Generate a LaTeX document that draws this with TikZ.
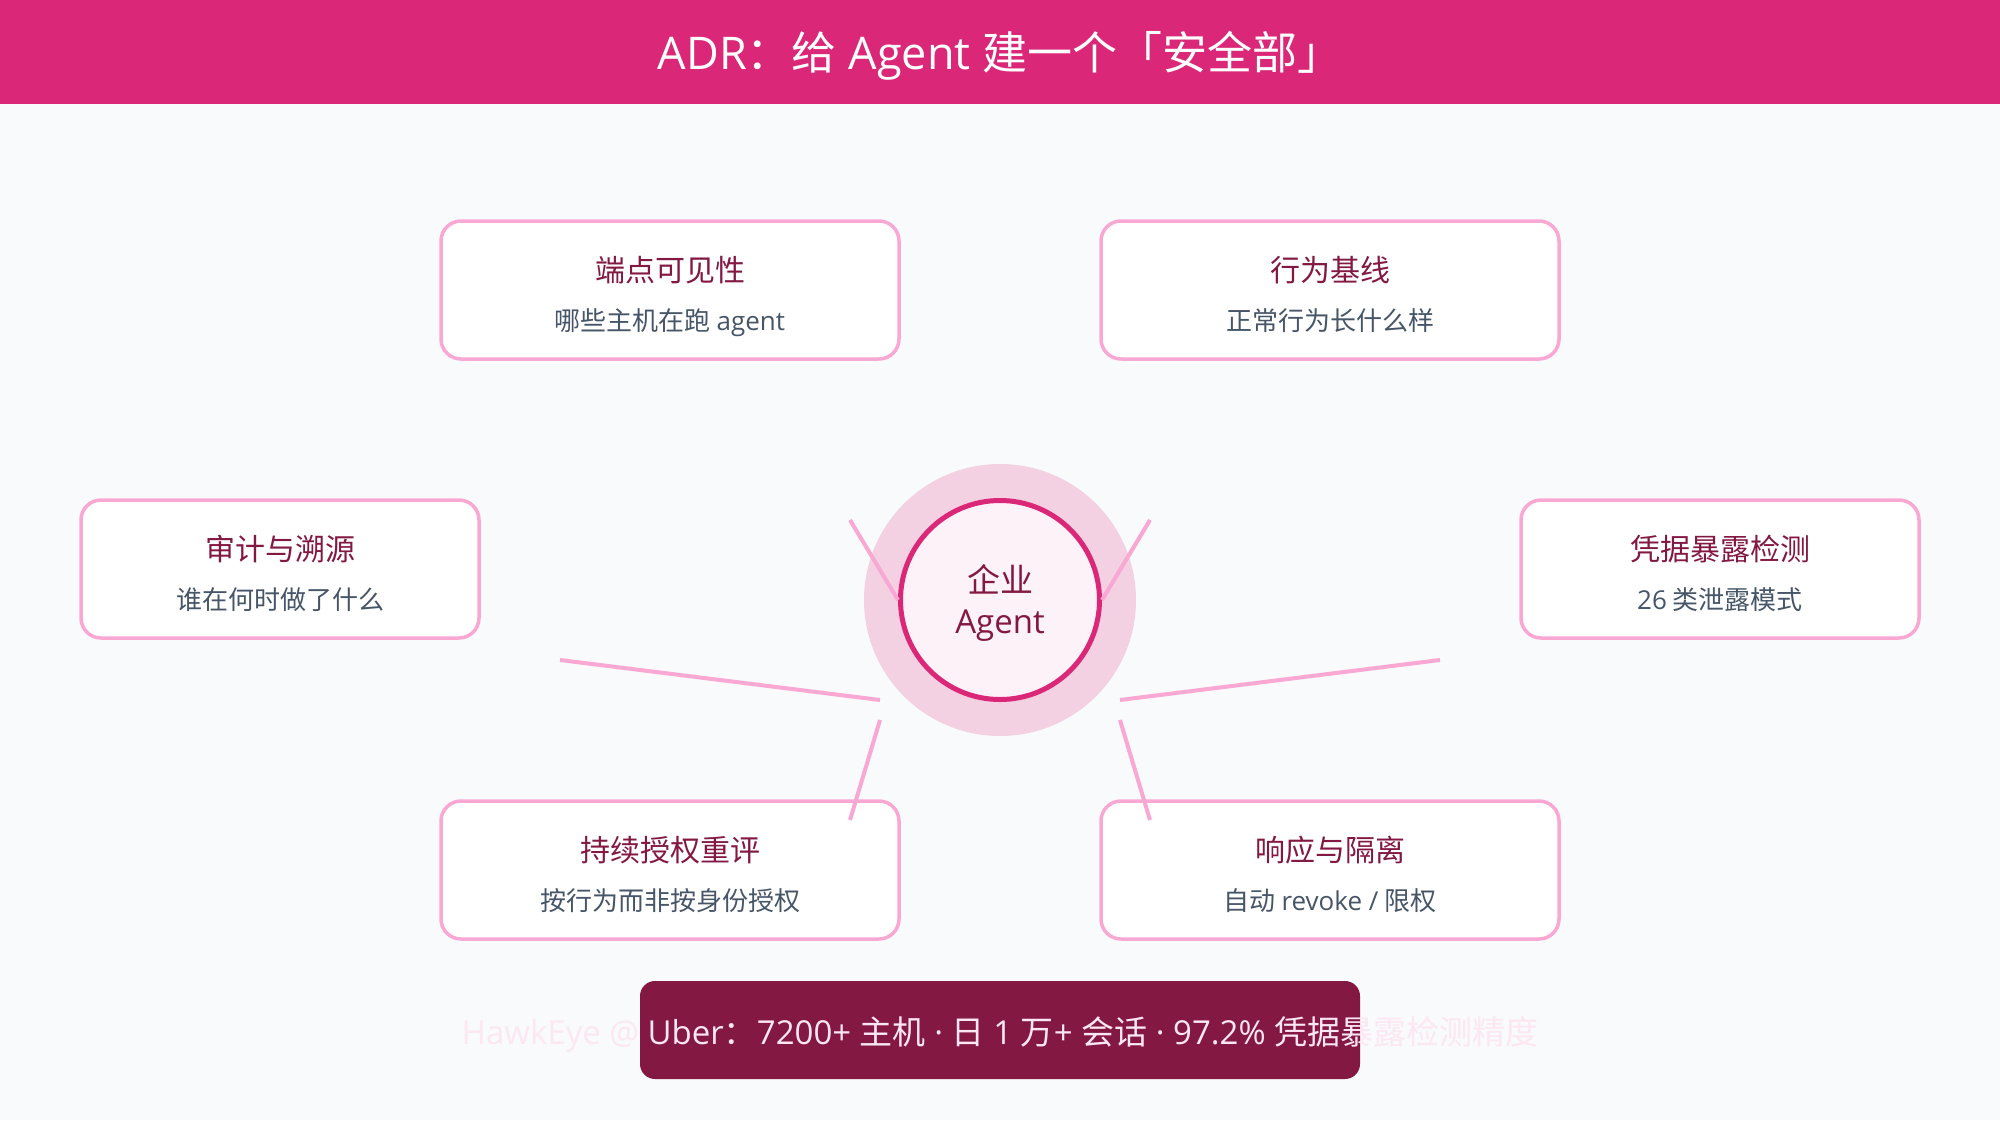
\documentclass[tikz,border=0pt]{standalone}
\usepackage{fontspec}
\setmainfont{Open Sans}
\newfontfamily\zh{Noto Sans CJK SC}
\usepackage{tikz}
\usetikzlibrary{calc}

\definecolor{bgpaper}{HTML}{F8FAFC}
\definecolor{headpink}{HTML}{DB2777}
\definecolor{cardline}{HTML}{F9A8D4}
\definecolor{titlered}{HTML}{831843}
\definecolor{subgrey}{HTML}{475569}
\definecolor{halo}{HTML}{F3D1E2}
\definecolor{hubfill}{HTML}{FDF2F8}
\definecolor{bannertext}{HTML}{FCE7F3}

\begin{document}
\begin{tikzpicture}[x=1pt,y=-1pt,
  card/.style={draw=cardline, fill=white, line width=3.5pt, rounded corners=20pt, minimum height=138pt, inner sep=0pt},
  cardtitle/.style={anchor=base, text=titlered, font=\zh\fontsize{30}{36}\selectfont},
  cardsub/.style={anchor=base, text=subgrey, font=\zh\fontsize{26}{31}\selectfont},
  spoke/.style={draw=cardline, line width=4pt}]

\fill[bgpaper] (0,0) rectangle (2000,1120);
\useasboundingbox (0,0) rectangle (2000,1120);

% header
\fill[headpink] (0,0) rectangle (2000,104);
\node[anchor=base, text=white, font=\fontsize{45}{54}\selectfont] (head) at (1000,69) {ADR{\zh ：给} Agent {\zh 建一个「安全部」}};

% six cards
\foreach \n/\x/\y/\w/\t/\s in {
  vis/670/290/458/端点可见性/哪些主机在跑 {\rmfamily agent},
  norm/1330/290/458/行为基线/正常行为长什么样,
  audit/280/569/398/审计与溯源/谁在何时做了什么,
  cred/1720/569/398/凭据暴露检测/{\rmfamily 26} 类泄露模式,
  authz/670/870/458/持续授权重评/按行为而非按身份授权,
  resp/1330/870/458/响应与隔离/自动 {\rmfamily revoke /} 限权}{
  \node[card, minimum width=\w pt] (\n) at (\x,\y) {};
  \node[cardtitle] (\n-t) at ($(\n)+(0,-9)$) {\t};
  \node[cardsub] (\n-s) at ($(\n)+(0,40)$) {\s};
}

% hub
\node[circle, fill=halo, minimum size=272pt, inner sep=0pt] (halo) at (1000,600) {};
\node[circle, draw=headpink, fill=hubfill, line width=5pt, minimum size=199pt, inner sep=0pt] (hub) at (1000,600) {};
\node[anchor=base, text=titlered, font=\zh\fontsize{33}{40}\selectfont] (hub-t) at (1000,592) {企业};
\node[anchor=base, text=titlered, font=\fontsize{33}{40}\selectfont] (hub-s) at (1000,633) {Agent};

% spokes
\coordinate (s1) at (850,520);
\coordinate (s2) at (1150,520);
\coordinate (s3a) at (560,660);
\coordinate (s3b) at (880,700);
\coordinate (s4a) at (1440,660);
\coordinate (s4b) at (1120,700);
\coordinate (s5a) at (880,720);
\coordinate (s5b) at (850,820);
\coordinate (s6a) at (1120,720);
\coordinate (s6b) at (1150,820);
\draw[spoke] (s1) -- (hub.west);
\draw[spoke] (s2) -- (hub.east);
\draw[spoke] (s3a) -- (s3b);
\draw[spoke] (s4a) -- (s4b);
\draw[spoke] (s5a) -- (s5b);
\draw[spoke] (s6a) -- (s6b);

% banner
\node[fill=titlered, rounded corners=15pt, minimum width=720pt, minimum height=98pt, inner sep=0pt] (banner) at (1000,1030) {};
\node[anchor=base, text=bannertext, font=\fontsize{33}{40}\selectfont] (banner-t) at (1000,1044) {HawkEye @ Uber{\zh ：}7200+ {\zh 主机} · {\zh 日} 1 {\zh 万}+ {\zh 会话} · 97.2\% {\zh 凭据暴露检测精度}};

\end{tikzpicture}
\end{document}
